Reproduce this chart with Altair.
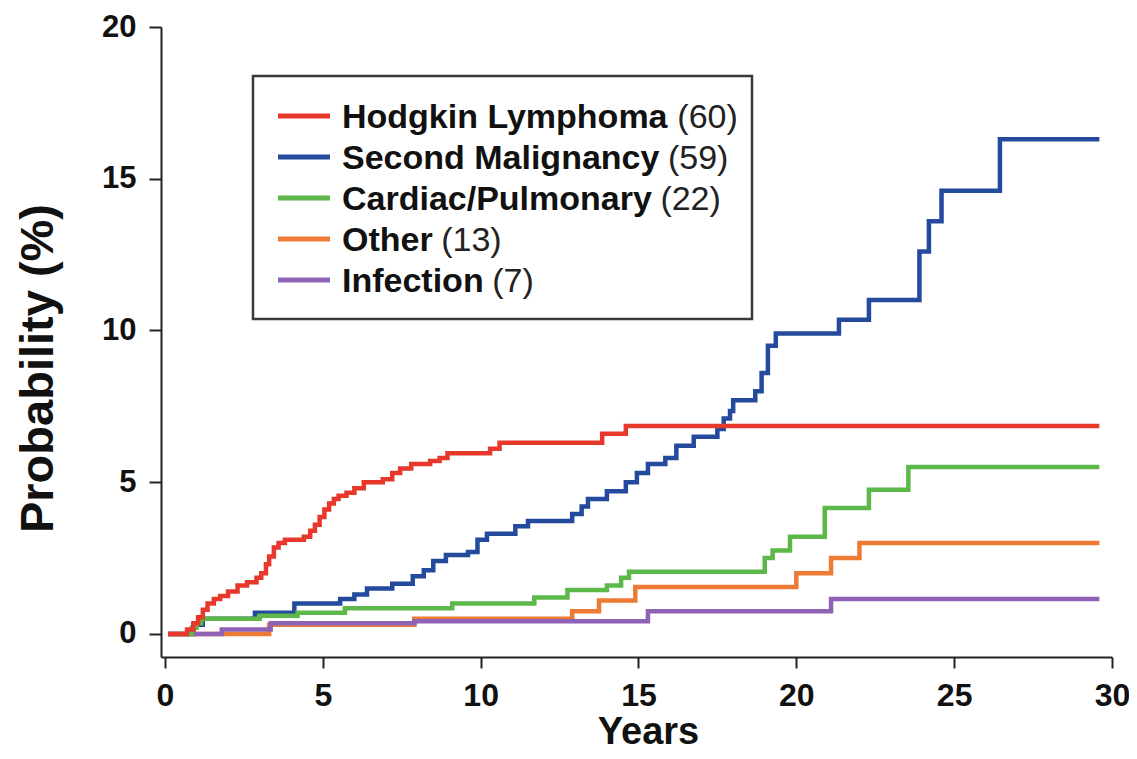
import altair as alt
import pandas as pd

# ---------------- data ----------------
categories = ["Hodgkin Lymphoma", "Second Malignancy", "Cardiac/Pulmonary", "Other", "Infection"]
counts = [60, 59, 22, 13, 7]
colors = ["#E8382B", "#234A9C", "#5CB848", "#EE7B35", "#8E62B5"]

hl_t = [0.1, 0.7, 0.9, 1.05, 1.2, 1.35, 1.55, 1.75, 2.0, 2.3, 2.6, 2.9, 3.05, 3.2, 3.3, 3.45,
        3.6, 3.8, 4.4, 4.6, 4.75, 4.9, 5.05, 5.2, 5.35, 5.5, 5.75, 6.0, 6.3, 6.9, 7.2, 7.45,
        7.8, 8.4, 8.7, 8.95, 10.3, 10.6, 13.85, 14.6, 29.6]
hl_p = [0.0, 0.15, 0.35, 0.55, 0.8, 1.0, 1.15, 1.25, 1.4, 1.6, 1.7, 1.85, 2.0, 2.3, 2.55, 2.85,
        3.0, 3.1, 3.2, 3.4, 3.6, 3.85, 4.1, 4.3, 4.45, 4.55, 4.65, 4.8, 5.0, 5.1, 5.3, 5.45,
        5.6, 5.7, 5.8, 5.95, 6.1, 6.3, 6.6, 6.85, 6.85]

sm_t = [0.1, 0.9, 1.2, 2.85, 4.1, 5.55, 6.0, 6.4, 7.2, 7.85, 8.2, 8.5, 8.9, 9.6, 9.9, 10.2,
        11.1, 11.5, 12.9, 13.2, 13.4, 14.0, 14.6, 14.95, 15.3, 15.85, 16.2, 16.75, 17.5, 17.7,
        17.9, 18.0, 18.7, 18.9, 19.1, 19.35, 21.35, 22.3, 23.9, 24.2, 24.6, 26.45, 29.6]
sm_p = [0.0, 0.3, 0.5, 0.7, 1.0, 1.15, 1.3, 1.5, 1.65, 1.9, 2.1, 2.4, 2.6, 2.7, 3.1, 3.3,
        3.55, 3.72, 3.95, 4.2, 4.45, 4.7, 5.0, 5.3, 5.6, 5.8, 6.2, 6.5, 6.75, 7.1,
        7.35, 7.7, 8.0, 8.6, 9.5, 9.9, 10.35, 11.0, 12.6, 13.6, 14.6, 16.3, 16.3]

cp_t = [0.1, 0.85, 1.0, 1.15, 3.0, 4.2, 5.7, 9.1, 11.7, 12.75, 14.0, 14.45, 14.7, 19.0,
        19.25, 19.8, 20.9, 22.3, 23.55, 29.6]
cp_p = [0.0, 0.2, 0.35, 0.5, 0.6, 0.7, 0.85, 1.0, 1.2, 1.45, 1.6, 1.85, 2.05, 2.5,
        2.75, 3.2, 4.15, 4.75, 5.5, 5.5]

ot_t = [0.1, 3.3, 7.9, 12.9, 13.75, 14.9, 20.0, 21.1, 22.0, 29.6]
ot_p = [0.0, 0.3, 0.5, 0.75, 1.1, 1.55, 2.0, 2.5, 3.0, 3.0]

in_t = [0.1, 1.8, 3.35, 7.9, 15.3, 21.1, 29.6]
in_p = [0.0, 0.15, 0.35, 0.42, 0.75, 1.15, 1.15]

x_ticks = [0, 5, 10, 15, 20, 25, 30]
y_ticks = [0, 5, 10, 15, 20]

series = {
    "Hodgkin Lymphoma": (hl_t, hl_p),
    "Second Malignancy": (sm_t, sm_p),
    "Cardiac/Pulmonary": (cp_t, cp_p),
    "Other": (ot_t, ot_p),
    "Infection": (in_t, in_p),
}
draw_order = ["Second Malignancy", "Other", "Infection", "Cardiac/Pulmonary", "Hodgkin Lymphoma"]

FONT = "Liberation Sans, Arial, Helvetica, sans-serif"
W, H = 951, 630
X_DOM = [-0.125, 30]
Y_DOM = [-0.76, 20]

color_scale = alt.Scale(domain=categories, range=colors)
x_scale = alt.Scale(domain=X_DOM, nice=False, zero=False)
y_scale = alt.Scale(domain=Y_DOM, nice=False, zero=False)

x_axis = alt.Axis(values=x_ticks, title="Years", grid=False, tickSize=11, tickWidth=2,
                  domainWidth=2, domainColor="#222", tickColor="#222",
                  labelFont=FONT, labelFontSize=32, labelFontWeight="bold", labelColor="#111",
                  labelBaseline="alphabetic", labelPadding=37, labelFlush=False,
                  titleFont=FONT, titleFontSize=38, titleFontWeight="bold", titleColor="#111",
                  titleBaseline="alphabetic", titleX=487, titleY=86, titleAlign="center")
y_axis = alt.Axis(values=y_ticks, title="Probability (%)", grid=False, tickSize=12, tickWidth=2,
                  domainWidth=2, domainColor="#222", tickColor="#222",
                  labelFont=FONT, labelFontSize=31, labelFontWeight="bold", labelColor="#111",
                  labelPadding=13, labelFlush=False,
                  titleFont=FONT, titleFontSize=47, titleFontWeight="bold", titleColor="#111",
                  titleAngle=270, titleBaseline="alphabetic", titleAlign="center",
                  titleX=-109, titleY=341)


def Y(field):
    return alt.Y(field, scale=y_scale, axis=y_axis)


def X(field):
    return alt.X(field, scale=x_scale, axis=x_axis)


layers = []
for name in draw_order:
    t, p = series[name]
    df = pd.DataFrame({"Years": t, "Probability": p, "category": name})
    layers.append(alt.Chart(df).mark_line(interpolate="step-after", strokeWidth=4.5).encode(
        x=X("Years:Q"), y=Y("Probability:Q"),
        color=alt.Color("category:N", scale=color_scale, legend=None),
    ))

# ---------------- hand-built legend (mixed bold / normal text) ----------------
def px_to_x(px):
    return X_DOM[0] + px / W * (X_DOM[1] - X_DOM[0])


def py_to_y(py):
    return Y_DOM[1] - py / H * (Y_DOM[1] - Y_DOM[0])


bold_w = {"H": 722, "o": 611, "d": 611, "g": 611, "k": 556, "i": 278, "n": 611, " ": 278,
          "L": 611, "y": 556, "m": 889, "p": 611, "h": 611, "a": 556, "S": 667, "e": 556,
          "c": 556, "M": 833, "l": 278, "C": 722, "r": 389, "/": 278, "P": 667, "u": 611,
          "O": 778, "t": 333, "I": 278, "f": 333}
LFS = 34
name_px = 181
row0, row_gap = 89, 41


def bold_width(s):
    return sum(bold_w.get(ch, 600) for ch in s) / 1000.0 * LFS


leg = pd.DataFrame({
    "category": categories,
    "count": ["(%d)" % c for c in counts],
    "ly": [py_to_y(row0 + row_gap * i) for i in range(len(categories))],
    "lx1": px_to_x(117),
    "lx2": px_to_x(169),
    "nx": px_to_x(name_px),
    "cx": [px_to_x(name_px + bold_width(c) + 0.25 * LFS) for c in categories],
})
box_df = pd.DataFrame({"bx1": [px_to_x(92)], "bx2": [px_to_x(591)],
                       "by1": [py_to_y(49)], "by2": [py_to_y(292)]})

box = alt.Chart(box_df).mark_rect(fill="white", stroke="#3a3a3a", strokeWidth=2.5).encode(
    x=X("bx1:Q"), x2="bx2:Q", y=Y("by1:Q"), y2="by2:Q")

leg_lines = alt.Chart(leg).mark_rule(strokeWidth=5).encode(
    x=X("lx1:Q"), x2="lx2:Q", y=Y("ly:Q"),
    color=alt.Color("category:N", scale=color_scale, legend=None),
)
leg_names = alt.Chart(leg).mark_text(
    align="left", baseline="middle", font=FONT, fontSize=LFS, fontWeight="bold", color="#111", dy=2
).encode(x=X("nx:Q"), y=Y("ly:Q"), text="category:N")
leg_counts = alt.Chart(leg).mark_text(
    align="left", baseline="middle", font=FONT, fontSize=LFS, fontWeight="normal", color="#222", dy=2
).encode(x=X("cx:Q"), y=Y("ly:Q"), text="count:N")

chart = alt.layer(*layers, box, leg_lines, leg_names, leg_counts).properties(
    width=W, height=H,
    autosize=alt.AutoSizeParams(type="none"),
    padding={"left": 153, "top": 19, "right": 17, "bottom": 94},
    background="white",
).configure_view(strokeWidth=0)

chart.save("out.html", embed_options={"renderer": "svg", "actions": False})
